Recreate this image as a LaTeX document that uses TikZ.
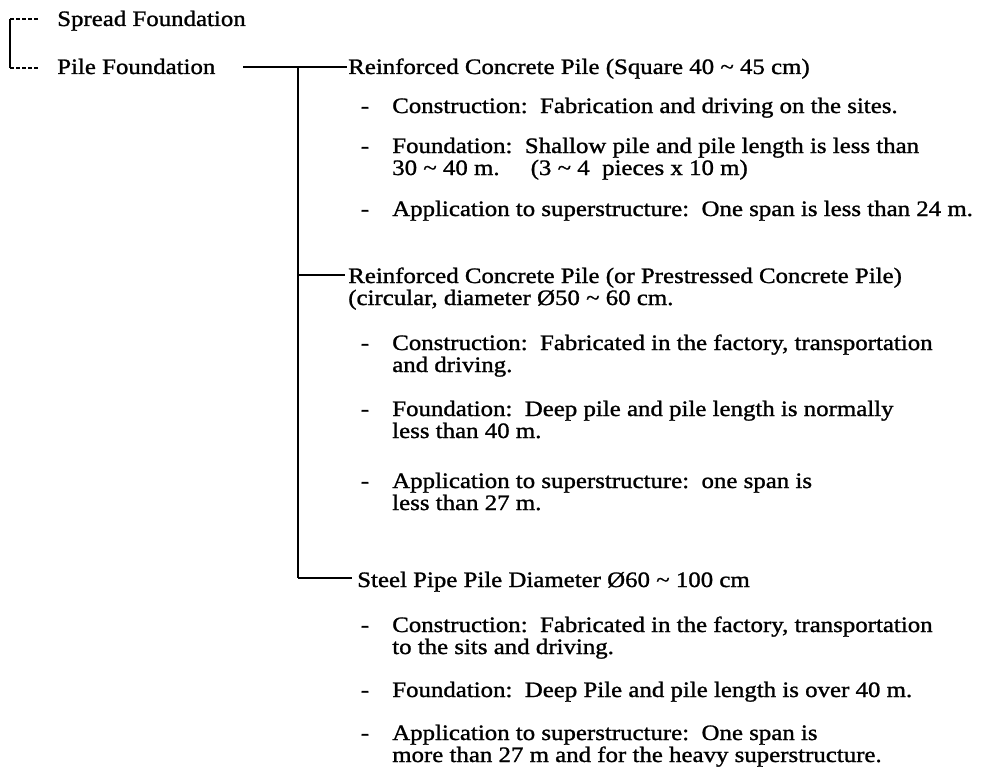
\documentclass[tikz,border=0pt]{standalone}
\usepackage{fontspec}
\setmainfont{Liberation Serif}[FakeStretch=1.13,FakeBold=1.2]
\newcommand{\tld}{\textasciitilde}
\begin{document}
\begin{tikzpicture}[x=0.75pt,y=-0.75pt,
  txt/.style={inner sep=0pt, anchor=base west, font=\fontsize{16.5}{18}\selectfont},
  dashmark/.style={inner sep=0pt, anchor=base, font=\fontsize{16.5}{18}\selectfont},
  trunk/.style={line width=2.2pt},
  branch/.style={line width=1.1pt},
  brk/.style={line width=1.3pt},
  brkd/.style={line width=1.0pt, dash pattern=on 3pt off 1.5pt}]
\useasboundingbox (0,0) rectangle (1001,771);
\fill[white] (0,0) rectangle (1001,771);

% left bracket
\node[txt] (spread) at (57,26) {Spread Foundation};
\node[txt] (pile) at (57,74) {Pile Foundation};
\coordinate (bx1) at (10,19);
\coordinate (bx2) at (10,68);
\coordinate (be1) at (40,19);
\coordinate (be2) at (40,68);
\draw[brk] (bx1) -- (bx2);
\draw[brkd] (bx1) -- (be1);
\draw[brkd] (bx2) -- (be2);

% tree
\coordinate (t0) at (243,67);
\coordinate (j1) at (298,67);
\coordinate (j2) at (298,275);
\coordinate (j3) at (298,578);

% group 1
\node[txt] (r1) at (348,74) {Reinforced Concrete Pile (Square 40 \tld\ 45 cm)};
\node[dashmark] (c1d) at (365,113) {-};
\node[txt] (c1) at (392,113) {Construction:\ \ Fabrication and driving on the sites.};
\node[dashmark] (f1d) at (365,153) {-};
\node[txt] (f1) at (392,153) {Foundation:\ \ Shallow pile and pile length is less than};
\node[txt] (f1b) at (392,175) {30 \tld\ 40 m.\ \ \ \ \ (3 \tld\ 4\ \ pieces x 10 m)};
\node[dashmark] (a1d) at (365,216) {-};
\node[txt] (a1) at (392,216) {Application to superstructure:\ \ One span is less than 24 m.};

% group 2
\node[txt] (r2) at (348,283) {Reinforced Concrete Pile (or Prestressed Concrete Pile)};
\node[txt] (r2b) at (348,305) {(circular, diameter Ø50 \tld\ 60 cm.};
\node[dashmark] (c2d) at (365,350) {-};
\node[txt] (c2) at (392,350) {Construction:\ \ Fabricated in the factory, transportation};
\node[txt] (c2b) at (392,372) {and driving.};
\node[dashmark] (f2d) at (365,416) {-};
\node[txt] (f2) at (392,416) {Foundation:\ \ Deep pile and pile length is normally};
\node[txt] (f2b) at (392,438) {less than 40 m.};
\node[dashmark] (a2d) at (365,488) {-};
\node[txt] (a2) at (392,488) {Application to superstructure:\ \ one span is};
\node[txt] (a2b) at (392,510) {less than 27 m.};

% group 3
\node[txt] (s) at (357,587) {Steel Pipe Pile Diameter Ø60 \tld\ 100 cm};
\node[dashmark] (c3d) at (365,632) {-};
\node[txt] (c3) at (392,632) {Construction:\ \ Fabricated in the factory, transportation};
\node[txt] (c3b) at (392,654) {to the sits and driving.};
\node[dashmark] (f3d) at (365,697) {-};
\node[txt] (f3) at (392,697) {Foundation:\ \ Deep Pile and pile length is over 40 m.};
\node[dashmark] (a3d) at (365,740) {-};
\node[txt] (a3) at (392,740) {Application to superstructure:\ \ One span is};
\node[txt] (a3b) at (392,762) {more than 27 m and for the heavy superstructure.};

% connectors
\draw[branch] (t0) -- ([xshift=-1pt]t0 -| r1.west);
\draw[trunk] (j1) -- (j3);
\draw[branch] (j2) -- ([xshift=-2pt]j2 -| r2.west);
\draw[branch] (j3) -- ([xshift=-4pt]j3 -| s.west);
\end{tikzpicture}
\end{document}
